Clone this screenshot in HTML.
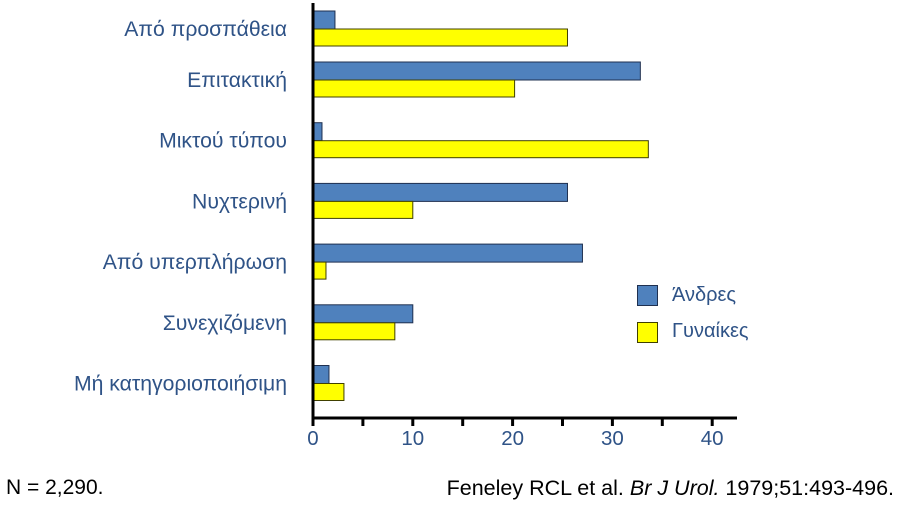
<!DOCTYPE html>
<html><head><meta charset="utf-8"><style>
body{margin:0;background:#fff;}
text{font-family:"Liberation Sans","DejaVu Sans",sans-serif;}
</style></head><body>
<svg id="chart" width="899" height="502" xmlns="http://www.w3.org/2000/svg"></svg>
<script>
const categories=["Από προσπάθεια","Επιτακτική","Μικτού τύπου","Νυχτερινή","Από υπερπλήρωση","Συνεχιζόμενη","Μή κατηγοριοποιήσιμη"];
const men=[2.2,32.8,0.9,25.5,27,10,1.6];
const women=[25.5,20.2,33.6,10,1.3,8.2,3.1];
const xTicks=[0,10,20,30,40];
const svg=document.getElementById('chart');
const NS='http://www.w3.org/2000/svg';
const x0=313,pxPer=9.98,axisY=418,bh=17;
const X=v=>x0+v*pxPer;
const Y=i=>i===0?29:80+(i-1)*60.7;
function mk(tag,attrs,txt){const e=document.createElementNS(NS,tag);for(const k in attrs)e.setAttribute(k,attrs[k]);if(txt!==undefined)e.textContent=txt;svg.appendChild(e);return e;}
const col='#2f5387';
categories.forEach((c,i)=>{
 const cy=Y(i);
 let t=mk('text',{x:287,y:cy+7,'text-anchor':'end','font-size':21.2,fill:col},c);
 
 
 let b=mk('rect',{x:x0,y:cy-bh-1,width:X(men[i])-x0,height:bh+1,fill:'#4f81bd',stroke:'#1f3050','stroke-width':1});
 
 
 let w=mk('rect',{x:x0,y:cy,width:X(women[i])-x0,height:bh,fill:'#ffff00',stroke:'#404000','stroke-width':1});
 
 
});
let ya=mk('line',{x1:x0,y1:3,x2:x0,y2:axisY+1,stroke:'#000','stroke-width':3});


let xa=mk('line',{x1:x0-1,y1:axisY,x2:737,y2:axisY,stroke:'#000','stroke-width':3});


for(let v=0;v<=40;v+=5){let tk=mk('line',{x1:X(v),y1:axisY,x2:X(v),y2:axisY+8,stroke:'#000','stroke-width':3});
 
 }
xTicks.forEach(v=>{let t=mk('text',{x:X(v),y:445,'text-anchor':'middle','font-size':20.5,fill:col},String(v));
 
 });
</script>
<div style="position:absolute;left:0;top:0;width:899px;height:502px;pointer-events:none">
<div style="position:absolute;left:637px;top:285px;width:19px;height:19px;background:#4f81bd;border:1px solid #1f3050"></div>
<div style="position:absolute;left:672px;top:284px;font:20px 'Liberation Sans',sans-serif;color:#2f5387">Άνδρες</div>
<div style="position:absolute;left:637px;top:322px;width:19px;height:19px;background:#ffff00;border:1px solid #404000"></div>
<div style="position:absolute;left:672px;top:320px;font:20px 'Liberation Sans',sans-serif;color:#2f5387">Γυναίκες</div>
<div style="position:absolute;left:6px;top:476px;font:21px 'Liberation Sans',sans-serif;color:#000">N = 2,290.</div>
<div style="position:absolute;right:5px;top:476px;font:21.5px 'Liberation Sans',sans-serif;color:#000;white-space:nowrap">Feneley RCL et al. <i>Br J Urol.</i> 1979;51:493-496.</div>
</div>
</body></html>
